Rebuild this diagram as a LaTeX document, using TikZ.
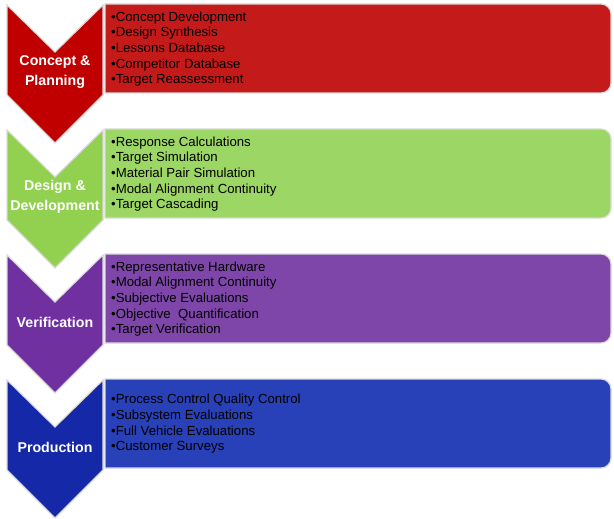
\documentclass[tikz,border=0pt]{standalone}
\usepackage{fontspec}
\setmainfont{Liberation Sans}
\definecolor{redC}{HTML}{C00000}
\definecolor{redR}{HTML}{C41A1A}
\definecolor{greenC}{HTML}{92D050}
\definecolor{greenR}{HTML}{9CD664}
\definecolor{purpleC}{HTML}{7030A0}
\definecolor{purpleR}{HTML}{7E46A8}
\definecolor{blueC}{HTML}{1428A8}
\definecolor{blueR}{HTML}{2840B8}
\definecolor{edgegray}{HTML}{DADADA}
\tikzset{
  chevshape/.style={draw=edgegray, line width=1.2pt, line join=miter},
  boxshape/.style={draw=edgegray, line width=1.2pt},
  stagelabel/.style={text=white, font=\bfseries\fontsize{14.2}{20}\selectfont, align=center, inner sep=0pt},
  itemlist/.style={text=black, font=\fontsize{13.2}{15.7}\selectfont, align=left, inner sep=0pt, anchor=west}
}
\newcommand\chevron[2]{%
  \path[chevshape, fill=#1] (7,#2) -- (55,#2+47) -- (103,#2) -- (103,#2+90) -- (55,#2+138) -- (7,#2+90) -- cycle;}
\newcommand\itembox[2]{%
  \path[boxshape, fill=#1] (105,#2-1) [rounded corners=10pt] -- (611,#2-1) -- (611,#2+88) [sharp corners] -- (105,#2+88) -- cycle;}
\begin{document}
\begin{tikzpicture}[x=1pt,y=-1pt]
\useasboundingbox (0,0) rectangle (614,519);
% row 1
\chevron{redC}{5}
\itembox{redR}{5}
\node[stagelabel] (s1) at (55,72) {Concept \&\\Planning};
\node[itemlist] (l1) at (111,49) {•Concept Development\\•Design Synthesis\\•Lessons Database\\•Competitor Database\\•Target Reassessment};
% row 2
\chevron{greenC}{130}
\itembox{greenR}{130}
\node[stagelabel] (s2) at (55,197) {Design \&\\Development};
\node[itemlist] (l2) at (111,174) {•Response Calculations\\•Target Simulation\\•Material Pair Simulation\\•Modal Alignment Continuity\\•Target Cascading};
% row 3
\chevron{purpleC}{255}
\itembox{purpleR}{255}
\node[stagelabel] (s3) at (55,322) {Verification};
\node[itemlist] (l3) at (111,299) {•Representative Hardware\\•Modal Alignment Continuity\\•Subjective Evaluations\\•Objective\ \ Quantification\\•Target Verification};
% row 4
\chevron{blueC}{380}
\itembox{blueR}{380}
\node[stagelabel] (s4) at (55,447) {Production};
\node[itemlist] (l4) at (111,424) {•Process Control Quality Control\\•Subsystem Evaluations\\•Full Vehicle Evaluations\\•Customer Surveys};
\end{tikzpicture}
\end{document}
